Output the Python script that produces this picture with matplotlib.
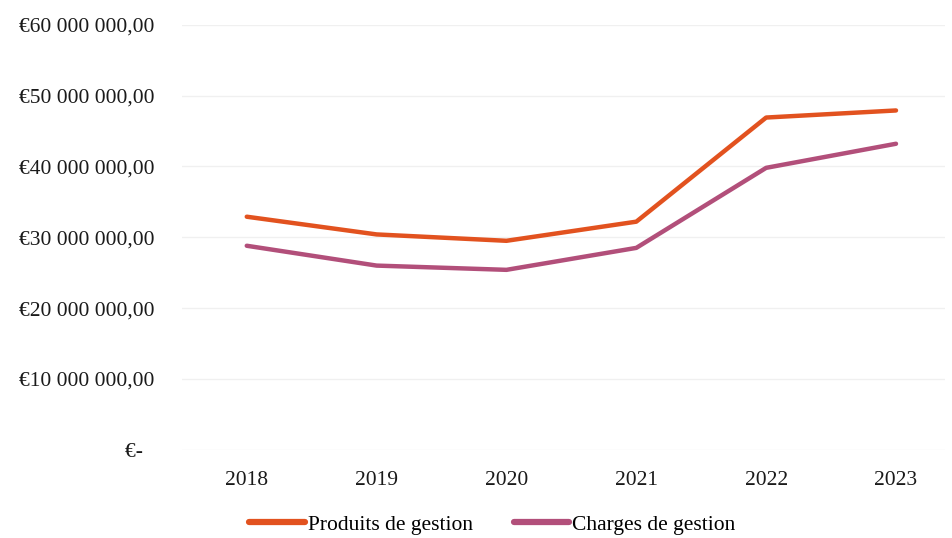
import matplotlib
matplotlib.use("Agg")
import matplotlib.pyplot as plt
from matplotlib.ticker import FixedLocator, FuncFormatter

years = ["2018", "2019", "2020", "2021", "2022", "2023"]
produits = [32.9e6, 30.4e6, 29.5e6, 32.2e6, 46.9e6, 47.9e6]
charges = [28.8e6, 26.0e6, 25.4e6, 28.5e6, 39.8e6, 43.2e6]
yticks = [0, 10e6, 20e6, 30e6, 40e6, 50e6, 60e6]

plt.rcParams['font.family'] = ['Liberation Serif', 'DejaVu Serif']

fig = plt.figure(figsize=(9.52, 5.38), dpi=100)
ax = fig.add_axes([0.191, 0.164, 0.802, 0.79])

x = list(range(len(years)))
ax.plot(x, produits, color="#E2521F", lw=3.2, label="Produits de gestion", solid_capstyle="round")
ax.plot(x, charges, color="#B24F7A", lw=3.2, label="Charges de gestion", solid_capstyle="round")

ax.set_xlim(-0.5, 5.38)
ax.set_ylim(0, 60e6)
ax.set_xticks(x)
ax.set_xticklabels(years)
ax.yaxis.set_major_locator(FixedLocator(yticks))

def fmt(v, pos):
    if v == 0:
        return "€-  "
    s = f"{int(round(v)):,}".replace(",", " ")
    return f"€{s},00"

ax.yaxis.set_major_formatter(FuncFormatter(fmt))
ax.grid(axis="y", color="#F0F0F0", lw=1)
ax.set_axisbelow(True)
for sp in ax.spines.values():
    sp.set_visible(False)
ax.tick_params(axis="both", length=0, labelsize=15.5, colors="#1a1a1a")
ax.tick_params(axis="y", pad=20)
ax.tick_params(axis="x", pad=15)

leg = fig.legend(loc="lower center", bbox_to_anchor=(0.517, -0.03), ncol=2, frameon=False,
                 fontsize=15.5, handlelength=2.6, handletextpad=0.1, columnspacing=1.9)
for h in leg.get_lines():
    h.set_linewidth(4.5)

fig.savefig("out.png", dpi=100, facecolor="white")
